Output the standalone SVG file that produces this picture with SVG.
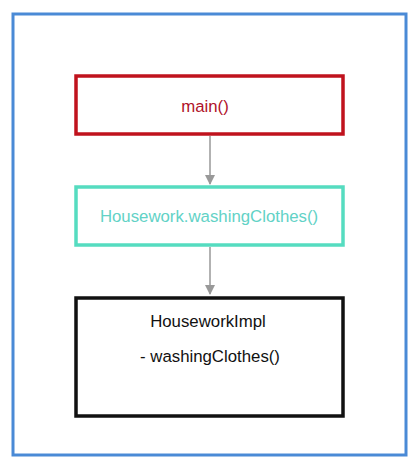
<svg xmlns="http://www.w3.org/2000/svg" width="417" height="469" viewBox="0 0 417 469">
<style>
text{font-family:"Liberation Sans",Arial,sans-serif;font-size:16.8px;text-anchor:middle}
.box{fill:#fff;stroke-width:3.5}
.conn{stroke:#999;stroke-width:1.5;fill:none}
</style>
<defs>
<marker id="arr" markerWidth="10" markerHeight="10" refX="9" refY="5" orient="auto" markerUnits="userSpaceOnUse">
<path d="M0,0 L10,5 L0,10 z" fill="#999"/>
</marker>
</defs>
<rect x="0" y="0" width="417" height="469" fill="#fff"/>
<rect id="frame" x="13" y="14" width="393" height="441" fill="none" stroke="#4a8ad6" stroke-width="3"/>
<g id="connectors">
<line class="conn" x1="210" y1="136" x2="210" y2="184" marker-end="url(#arr)"/>
<line class="conn" x1="210" y1="247" x2="210" y2="294" marker-end="url(#arr)"/>
</g>
<g id="main">
<rect class="box" x="76" y="76" width="267" height="58" stroke="#c0121d"/>
<text x="205" y="112" fill="#b0122a">main()</text>
</g>
<g id="housework">
<rect class="box" x="76" y="187" width="267" height="58" stroke="#55dcc0"/>
<text x="209" y="222" fill="#62d2c6">Housework.washingClothes()</text>
</g>
<g id="impl">
<rect class="box" x="76" y="298" width="267" height="118" stroke="#111"/>
<text x="208" y="327" fill="#111">HouseworkImpl</text>
<text x="210" y="362" fill="#111">- washingClothes()</text>
</g>
</svg>
